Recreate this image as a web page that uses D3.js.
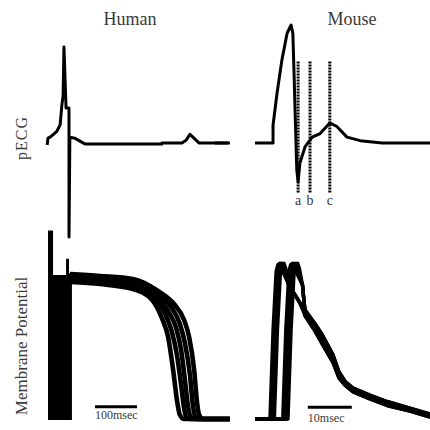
<!DOCTYPE html>
<html lang='en'>
    <head>
        <meta charset="utf-8">
        <title>pECG and membrane potential</title>
        <script src='https://d3js.org/d3.v7.min.js'></script>
        <style>
            body { margin: 0; background: #fff; }
            text { font-family: 'Liberation Serif', 'Times New Roman', serif; fill: #3a3a3a; }
        </style>
    </head>
    <body>
        <script type='text/javascript'>
            var w = 430;
            var h = 430;

            // ---- human pECG (ms, arbitrary units)
            var humanEcgT = [-2, 0, 5, 13, 21, 29, 31, 33, 36, 38, 43, 50, 50, 52, 64, 76, 88, 271, 271, 319, 329, 338, 350, 360, 433];
            var humanEcgV = [-0.01, 0.06, 0.07, 0.1, 0.13, 0.2, 0.3, 0.4, 0.5, 1.0, 0.37, 0.37, -0.96, 0.07, 0.06, 0.03, 0, 0, 0.01, 0.01, 0.04, 0.1, 0.05, 0.01, 0.01];

            // ---- human membrane potential (ms, mV)
            var humanStimT = [0, 12, 12, 43, 43, 50, 50, 57];
            var humanStimTop = [43, 43, 13, 13, 24, 24, 14, 14];
            var humanRest = -85;
            var humanApT = [
                [52, 124, 202, 248, 271, 286, 298, 307, 314, 324, 433],
                [52, 124, 202, 250, 279, 295, 307, 317, 324, 329, 338, 433],
                [52, 124, 202, 255, 286, 305, 317, 326, 333, 340, 350, 433],
                [52, 124, 202, 260, 293, 314, 326, 338, 345, 350, 360, 433],
                [52, 124, 202, 262, 300, 324, 336, 348, 355, 360, 369, 433]
            ];
            var humanApV = [
                [8.2, 6.9, 3.5, -3.9, -16.1, -28.9, -51.2, -71.5, -81.6, -84.3, -84.3],
                [9.6, 8.2, 4.9, -1.9, -13.4, -25.5, -41.0, -61.4, -76.9, -83.0, -84.3, -84.3],
                [11.0, 9.6, 6.9, -0.5, -11.4, -22.8, -37.7, -58.0, -74.9, -83.0, -84.3, -84.3],
                [12.3, 11.0, 8.2, 0.8, -8.6, -20.1, -33.0, -54.6, -74.9, -82.3, -84.3, -84.3],
                [13.6, 12.3, 10.3, 2.2, -6.6, -17.4, -28.9, -51.2, -73.5, -81.6, -84.3, -84.3]
            ];

            // ---- mouse pECG (ms, arbitrary units)
            var mouseEcgT = [0, 4.1, 4.1, 5.0, 6.1, 7.3, 8.2, 8.6, 8.9, 9.1, 9.5, 9.8, 10.2, 11.4, 13.0, 14.8, 17.0, 18.6, 20.9, 23.9, 28.9, 39.8];
            var mouseEcgV = [0, 0, 0.15, 0.42, 0.70, 0.93, 1.0, 0.93, 0.56, 0.28, -0.23, -0.33, -0.17, -0.03, 0.05, 0.08, 0.17, 0.14, 0.05, 0.02, 0, 0];
            var mouseStubT = [-9.1, -6.1];
            var markerT = [9.8, 12.5, 17.0];
            var markerLabels = ['a', 'b', 'c'];

            // ---- mouse membrane potential (ms, mV)
            var mouseRest = -80;
            var mouseOnsets = [3.4, 3.7, 4.0, 4.4, 6.3, 6.7, 7.1, 7.5];
            var mouseUpDt = [0, 0.7, 1.4, 1.8, 2.2, 2.6];
            var mouseUpV = [-80, -12, 33, 38, 39, 35];
            var earlyFallT = [7.7, 9.1, 10.2];
            var earlyFallV = [22.4, 14.8, 8.7];
            var lateFallT = [10.8, 11.1];
            var lateFallV = [22.4, 11.0];
            var mouseTailT = [11.4, 13.6, 15.2, 17.7, 19.1, 20.5, 22.3, 26.1, 30.0, 35.2, 39.8];
            var mouseTailV = [
                [3.3, -7.0, -15.0, -30.7, -44.1, -51.3, -56.3, -61.7, -66.6, -71.6, -76.2],
                [1.8, -8.9, -17.7, -33.0, -46.0, -52.5, -57.4, -62.8, -67.8, -72.4, -76.9],
                [0.3, -10.8, -20.0, -34.9, -47.5, -53.6, -58.6, -63.9, -68.5, -73.1, -77.7],
                [-1.3, -12.7, -22.3, -36.8, -48.7, -54.4, -59.4, -64.7, -69.7, -73.9, -78.5]
            ];
            var mouseTailOf = [0, 2, 1, 3, 1, 0, 3, 2];

            // scale bars
            var humanBarT = [112, 212];
            var mouseBarT = [12, 22];

            var svg = d3.select('body')
                        .append('svg')
                        .attr('width', w)
                        .attr('height', h);

            //scales
            var xHuman = d3.scaleLinear().domain([0, 100]).range([48, 90]);
            var xMouse = d3.scaleLinear().domain([0, 10]).range([255, 299]);
            var yHumanEcg = d3.scaleLinear().domain([-1, 1]).range([241, 47]);
            var yMouseEcg = d3.scaleLinear().domain([-0.5, 1]).range([202, 25]);
            var yHumanAp = d3.scaleLinear().domain([-85, 15]).range([420, 272]);
            var yMouseAp = d3.scaleLinear().domain([-80, 40]).range([419, 262]);

            function zip(ts, vs) {
                return ts.map(function(t, i){ return [t, vs[i]]; });
            }

            function trace(xs, ys, pts, width, curve) {
                var line = d3.line()
                    .x(function(d){ return xs(d[0]); })
                    .y(function(d){ return ys(d[1]); })
                    .curve(curve || d3.curveLinear);
                svg.append('path')
                    .attr('d', line(pts))
                    .attr('fill', 'none')
                    .attr('stroke', '#000')
                    .attr('stroke-width', width)
                    .attr('stroke-linejoin', 'round');
            }

            // human pECG
            trace(xHuman, yHumanEcg, zip(humanEcgT, humanEcgV), 3);

            // human stimulus block
            var stimArea = d3.area()
                .x(function(d){ return xHuman(d[0]); })
                .y0(yHumanAp(humanRest))
                .y1(function(d){ return yHumanAp(d[1]); });
            svg.append('path')
                .attr('d', stimArea(zip(humanStimT, humanStimTop)))
                .attr('fill', '#000');

            // human APs
            humanApT.forEach(function(ts, i){
                trace(xHuman, yHumanAp, zip(ts, humanApV[i]), 4.6, d3.curveMonotoneX);
            });

            // mouse pECG
            trace(xMouse, yMouseEcg, zip(mouseStubT, [0, 0]), 3);
            trace(xMouse, yMouseEcg, zip(mouseEcgT, mouseEcgV), 3);

            // a b c markers
            svg.selectAll('line.marker')
                .data(markerT)
                .enter()
                .append('line')
                .attr('class', 'marker')
                .attr('x1', function(d){ return xMouse(d); })
                .attr('x2', function(d){ return xMouse(d); })
                .attr('y1', yMouseEcg(0.69))
                .attr('y2', yMouseEcg(-0.42))
                .attr('stroke', '#000')
                .attr('stroke-width', 3)
                .attr('stroke-dasharray', '2,1');

            svg.selectAll('text.marker')
                .data(markerT)
                .enter()
                .append('text')
                .attr('class', 'marker')
                .attr('x', function(d){ return xMouse(d); })
                .attr('y', 205)
                .attr('text-anchor', 'middle')
                .attr('font-size', '14px')
                .text(function(d, i){ return markerLabels[i]; });

            // mouse APs
            trace(xMouse, yMouseAp, zip(mouseStubT, [mouseRest, mouseRest]), 3);
            mouseOnsets.forEach(function(t0, i){
                var pts = [[0, mouseRest]];
                mouseUpDt.forEach(function(dt, j){ pts.push([t0 + dt, mouseUpV[j]]); });
                var fall = i < 4 ? zip(earlyFallT, earlyFallV) : zip(lateFallT, lateFallV);
                pts = pts.concat(fall, zip(mouseTailT, mouseTailV[mouseTailOf[i]]));
                trace(xMouse, yMouseAp, pts, 3.4);
            });

            // scale bars
            trace(xHuman, yHumanAp, zip(humanBarT, [-76, -76]), 3);
            trace(xMouse, yMouseAp, zip(mouseBarT, [-71, -71]), 3);

            svg.append('text').attr('x', xHuman(humanBarT[0])).attr('y', 419)
                .attr('font-size', '12px').text('100msec');
            svg.append('text').attr('x', xMouse(mouseBarT[0])).attr('y', 422)
                .attr('font-size', '12px').text('10msec');

            // titles
            svg.append('text').attr('x', 130).attr('y', 25)
                .attr('text-anchor', 'middle').attr('font-size', '18px').text('Human');
            svg.append('text').attr('x', 352).attr('y', 25)
                .attr('text-anchor', 'middle').attr('font-size', '18px').text('Mouse');

            // row labels
            svg.append('text')
                .attr('transform', 'translate(27,138) rotate(-90)')
                .attr('text-anchor', 'middle')
                .attr('font-size', '16px')
                .attr('letter-spacing', '1px')
                .text('pECG');
            svg.append('text')
                .attr('transform', 'translate(27,346) rotate(-90)')
                .attr('text-anchor', 'middle')
                .attr('font-size', '17px')
                .text('Membrane Potential');
        </script>
    </body>
</html>
